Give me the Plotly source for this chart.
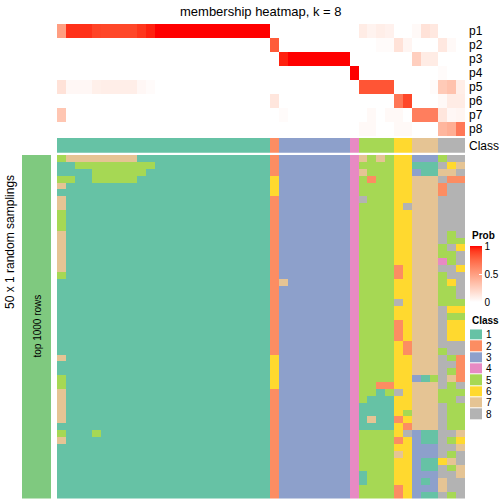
import numpy as np
import plotly.graph_objects as go

# ---------------- data ----------------
prob_rows = ["p1", "p2", "p3", "p4", "p5", "p6", "p7", "p8"]

# membership probabilities per sample (46 samples)
p1 = [0.50, 0.93, 0.93, 0.93, 0.88, 0.87, 0.87, 0.87, 0.87, 0.92, 0.96] + [1.0] * 13 + \
     [0, 0, 0, 0, 0, 0, 0, 0, 0, 0, 0.10, 0.06, 0.09, 0.07, 0, 0, 0.03, 0.15, 0.12, 0, 0, 0]
p2 = [0] * 24 + [0.80] + [0] * 9 + [0, 0, 0.02, 0.02, 0.15, 0.05, 0, 0, 0, 0.12, 0.03, 0]
p3 = [0] * 25 + [0.96] + [1.0] * 7 + [0] + [0, 0, 0, 0, 0, 0, 0.25, 0.10, 0.10, 0, 0, 0]
p4 = [0] * 33 + [1.0] + [0, 0, 0, 0, 0, 0, 0, 0, 0, 0.02, 0, 0]
p5 = [0.15, 0.04, 0.04, 0.04, 0.08, 0.09, 0.09, 0.09, 0.09, 0.04, 0.02] + [0] * 13 + \
     [0] * 10 + [0.82, 0.82, 0.82, 0.82, 0, 0, 0, 0, 0.02, 0.28, 0.32, 0.09]
p6 = [0] * 24 + [0.13] + [0] * 9 + [0, 0, 0, 0, 0.68, 0.87, 0, 0, 0, 0.03, 0.10, 0.10]
p7 = [0.30] + [0] * 23 + [0, 0.02] + [0] * 8 + [0, 0.03, 0, 0.03, 0.03, 0, 0.65, 0.65, 0.65, 0.13, 0.04, 0.05]
p8 = [0] * 34 + [0.03, 0.03, 0, 0, 0.03, 0.03, 0, 0, 0, 0.38, 0.42, 0.68]
prob = [p1, p2, p3, p4, p5, p6, p7, p8]

# predicted class of each sample
class_row = [1] * 24 + [2] + [3] * 8 + [4] + [5] * 4 + [6] * 2 + [7] * 3 + [8] * 3

# class labels in the 50 random samplings (one string per sampling, one digit per sample)
samplings_txt = [
    "5 77777777111111111111111 2 33333333 4 7575 66 333 588",
    "1 15555555551111111111111 2 33333333 4 5555 66 111 867",
    "1 11155555511111111111111 2 33333333 4 7555 66 311 778",
    "5 51155555111111111111111 6 33333333 4 5255 66 777 822",
    "7 11111111111111111111111 6 33333333 4 5555 66 777 288",
    "1 11111111111111111111111 6 33333333 4 5555 66 777 288",
    "7 11111111111111111111111 2 33333333 4 8555 66 777 888",
    "7 11111111111111111111111 2 33333333 4 5555 68 777 888",
    "5 11111111111111111111111 2 33333333 4 5555 66 777 888",
    "5 11111111111111111111111 2 33333333 4 5555 66 777 888",
    "5 11111111111111111111111 2 33333333 4 5555 66 777 888",
    "7 11111111111111111111111 2 33333333 4 5555 66 777 858",
    "7 11111111111111111111111 2 33333333 4 5555 66 777 855",
    "7 11111111111111111111111 2 33333333 4 5555 66 777 586",
    "7 11111111111111111111111 2 33333333 4 5555 66 777 558",
    "7 11111111111111111111111 2 33333333 4 5555 66 777 458",
    "7 11111111111111111111111 2 33333333 4 5555 26 777 886",
    "5 11111111111111111111111 2 33333333 4 5555 26 777 588",
    "1 11111111111111111111111 2 73333333 4 5555 66 777 568",
    "1 11111111111111111111111 2 33333333 4 5555 66 777 558",
    "1 11111111111111111111111 2 33333333 4 5555 66 777 558",
    "1 11111111111111111111111 2 33333333 4 5555 86 777 555",
    "1 11111111111111111111111 2 33333333 4 5555 66 777 866",
    "1 11111111111111111111111 2 33333333 4 5555 66 777 855",
    "1 11111111111111111111111 2 33333333 4 5555 26 777 866",
    "1 11111111111111111111111 2 33333333 4 5555 26 777 866",
    "1 11111111111111111111111 2 33333333 4 5555 26 777 866",
    "1 11111111111111111111111 2 33333333 4 5555 62 777 888",
    "1 11111111111111111111111 2 33333333 4 5555 62 777 588",
    "7 11111111111111111111111 6 33333333 4 5555 66 777 852",
    "1 11111111111111111111111 6 33333333 4 5555 66 777 882",
    "1 11111111111111111111111 6 33333333 4 5555 66 777 852",
    "5 11111111111111111111111 6 33333333 4 5555 66 315 872",
    "5 11111111111111111111111 6 33333333 4 5522 66 777 858",
    "7 11111111111111111111111 2 33333333 4 5515 86 777 555",
    "7 11111111111111111111111 2 33333333 4 5111 66 777 558",
    "7 11111111111111111111111 2 33333333 4 1111 66 777 855",
    "7 11111111111111111111111 2 33333333 4 1111 65 777 855",
    "7 11111111111111111111111 2 33333333 4 1711 26 777 855",
    "1 11111111111111111111111 2 33333333 4 1111 62 777 855",
    "5 11151111111111111111111 2 33333333 4 5555 68 311 887",
    "7 11111111111111111111111 2 33333333 4 5555 26 311 856",
    "1 11111111111111111111111 2 33333333 4 5555 66 333 887",
    "1 11111111111111111111111 2 33333333 4 5555 76 333 858",
    "1 11111111111111111111111 2 33333333 4 5555 66 311 678",
    "1 11111111111111111111111 2 33333333 4 5555 66 311 857",
    "1 11111111111111111111111 2 33333333 4 1555 66 333 887",
    "1 11111111111111111111111 2 33333333 4 1555 66 313 788",
    "1 11111111111111111111111 2 33333333 4 5555 26 333 788",
    "1 11111111111111111111111 2 33333333 4 5555 26 311 858",
]
samplings = [[int(ch) for ch in s.replace(" ", "")] for s in samplings_txt]
assert all(len(r) == 46 for r in samplings)

class_labels = ["1", "2", "3", "4", "5", "6", "7", "8"]
class_colors = ["#66C2A5", "#FC8D62", "#8DA0CB", "#E78AC3",
                "#A6D854", "#FFD92F", "#E5C494", "#B3B3B3"]
prob_ticks = [0, 0.5, 1]
prob_ticktext = ["0", "0.5", "1"]
title = "membership heatmap, k = 8"

# ---------------- colour helpers ----------------
def _lin(c):
    c = c / 255.0
    return ((c + 0.055) / 1.055) ** 2.4 if c > 0.04045 else c / 12.92

def _gam(c):
    c = max(0.0, min(1.0, c))
    v = 1.055 * c ** (1 / 2.4) - 0.055 if c > 0.0031308 else 12.92 * c
    return int(round(v * 255))

WHITE = (0.95047, 1.0, 1.08883)

def rgb2lab(rgb):
    r, g, b = [_lin(v) for v in rgb]
    X = 0.4124 * r + 0.3576 * g + 0.1805 * b
    Y = 0.2126 * r + 0.7152 * g + 0.0722 * b
    Z = 0.0193 * r + 0.1192 * g + 0.9505 * b
    def f(t):
        return t ** (1 / 3) if t > 0.008856 else 7.787 * t + 16 / 116
    fx_, fy_, fz_ = f(X / WHITE[0]), f(Y / WHITE[1]), f(Z / WHITE[2])
    return (116 * fy_ - 16, 500 * (fx_ - fy_), 200 * (fy_ - fz_))

def lab2rgb(lab):
    L, a, b = lab
    fy_ = (L + 16) / 116
    fx_ = fy_ + a / 500
    fz_ = fy_ - b / 200
    def finv(t):
        return t ** 3 if t ** 3 > 0.008856 else (t - 16 / 116) / 7.787
    X, Y, Z = WHITE[0] * finv(fx_), WHITE[1] * finv(fy_), WHITE[2] * finv(fz_)
    r = 3.2406 * X - 1.5372 * Y - 0.4986 * Z
    g = -0.9689 * X + 1.8758 * Y + 0.0415 * Z
    bb = 0.0557 * X - 0.2040 * Y + 1.0570 * Z
    return "rgb(%d,%d,%d)" % (_gam(r), _gam(g), _gam(bb))

lw, lr = rgb2lab((255, 255, 255)), rgb2lab((255, 0, 0))
prob_scale = []
for t in np.linspace(0, 1, 21):
    lab = tuple(lw[i] + (lr[i] - lw[i]) * t for i in range(3))
    prob_scale.append([float(t), lab2rgb(lab)])

class_scale = []
for i, c in enumerate(class_colors):
    class_scale.append([i / 8, c])
    class_scale.append([(i + 1) / 8, c])

# ---------------- layout helpers ----------------
W = H = 504
def fx(p):
    return p / W
def fy(p):
    return 1 - p / H

X0, X1 = 57, 465
FONT = "Liberation Sans, Arial, Helvetica, sans-serif"

fig = go.Figure()

fig.add_trace(go.Heatmap(
    z=prob, y=prob_rows, colorscale=prob_scale, zmin=0, zmax=1,
    xaxis="x", yaxis="y", showscale=True,
    colorbar=dict(
        x=fx(470), xanchor="left", y=fy(246), yanchor="top",
        len=56, lenmode="pixels", thickness=12, thicknessmode="pixels",
        xpad=0, ypad=0, outlinewidth=0,
        tickvals=prob_ticks, ticktext=prob_ticktext,
        ticks="inside", ticklen=3, tickcolor="white",
        tickfont=dict(size=10, color="black", family=FONT),
    ),
))

fig.add_trace(go.Heatmap(
    z=[class_row], y=["Class"], colorscale=class_scale, zmin=0.5, zmax=8.5,
    xaxis="x2", yaxis="y2", showscale=False,
))

fig.add_trace(go.Heatmap(
    z=samplings, colorscale=class_scale, zmin=0.5, zmax=8.5,
    xaxis="x3", yaxis="y3", showscale=False,
))

fig.add_trace(go.Heatmap(
    z=[[1]], colorscale=[[0, "#7FC97F"], [1, "#7FC97F"]],
    xaxis="x4", yaxis="y4", showscale=False,
))

fig.add_trace(go.Heatmap(
    z=[[i + 1] for i in range(8)], y=class_labels, colorscale=class_scale,
    zmin=0.5, zmax=8.5, ygap=1, xaxis="x5", yaxis="y5", showscale=False,
))

hid = dict(visible=False, showgrid=False, zeroline=False)

def lab_axis(labels, size):
    return dict(side="right", showgrid=False, zeroline=False, ticks="",
                showline=False, autorange="reversed", type="category",
                tickmode="array", tickvals=labels, ticktext=labels,
                tickfont=dict(size=size, color="black", family=FONT),
                ticklabelstandoff=3)

fig.update_layout(
    width=W, height=H, margin=dict(l=0, r=0, t=0, b=0),
    paper_bgcolor="white", plot_bgcolor="white", showlegend=False,
    font=dict(family=FONT, color="black"),
    xaxis=dict(domain=[fx(X0), fx(X1)], anchor="y", **hid),
    yaxis=dict(domain=[fy(136), fy(24)], anchor="x", **lab_axis(prob_rows, 12)),
    xaxis2=dict(domain=[fx(X0), fx(X1)], anchor="y2", **hid),
    yaxis2=dict(domain=[fy(152.7), fy(138)], anchor="x2", **lab_axis(["Class"], 12)),
    xaxis3=dict(domain=[fx(X0), fx(X1)], anchor="y3", **hid),
    yaxis3=dict(domain=[fy(498.5), fy(155)], anchor="x3", autorange="reversed",
                visible=False, showgrid=False, zeroline=False),
    xaxis4=dict(domain=[fx(22), fx(51)], anchor="y4", **hid),
    yaxis4=dict(domain=[fy(498.5), fy(155)], anchor="x4", **hid),
    xaxis5=dict(domain=[fx(470), fx(482)], anchor="y5", **hid),
    yaxis5=dict(domain=[fy(420), fy(329.3)], anchor="x5", **lab_axis(class_labels, 10)),
)

ann = [
    dict(text=title, x=fx((X0 + X1) / 2), y=fy(11), font=dict(size=13)),
    dict(text="<b>Prob</b>", x=fx(470), y=fy(235), xanchor="left", font=dict(size=10)),
    dict(text="<b>Class</b>", x=fx(470), y=fy(320), xanchor="left", font=dict(size=10)),
    dict(text="top 1000 rows", x=fx(36.5), y=fy(326), textangle=-90, font=dict(size=10)),
    dict(text="50 x 1 random samplings", x=fx(10), y=fy(242), textangle=-90, font=dict(size=12)),
]
for a in ann:
    a.setdefault("xanchor", "center")
    a.update(xref="paper", yref="paper", showarrow=False, yanchor="middle")
    a["font"].update(family=FONT, color="black")
    fig.add_annotation(**a)

fig.write_html("out.html", config={"displayModeBar": False},
               post_script="document.body.style.margin='0';")
